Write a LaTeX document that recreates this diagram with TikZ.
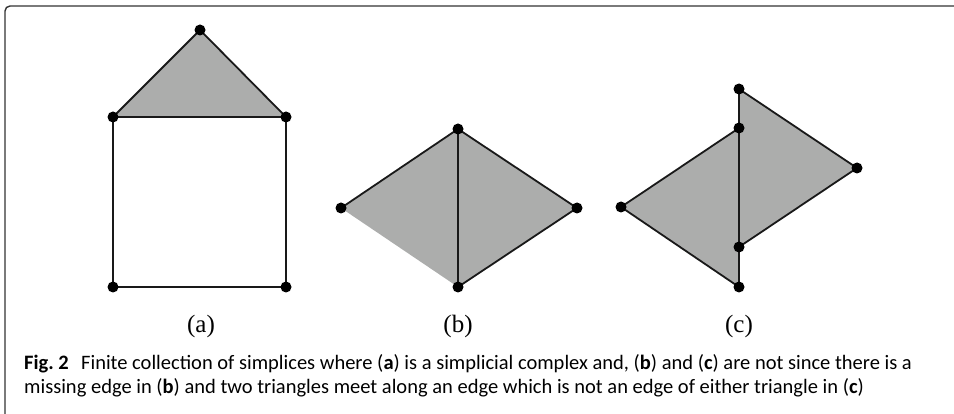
\documentclass[tikz,border=0pt]{standalone}
\usepackage{fontspec}
\setmainfont{Liberation Serif}
\newfontfamily\capfont{Carlito}
\usepackage{tikz}
\definecolor{simplexgray}{RGB}{172,173,172}
\tikzset{
  vertex/.style={circle, fill=black, inner sep=0pt, minimum size=11pt},
  edge/.style={draw=black!90, line width=1.8pt},
  face/.style={fill=simplexgray},
  frame/.style={draw=black!80, line width=1.4pt, rounded corners=5pt},
  sublabel/.style={font=\fontsize{25}{28}\selectfont, anchor=base},
  caption/.style={font=\capfont\fontsize{20.5}{24}\selectfont, align=left, inner sep=0pt, anchor=north west}
}

\begin{document}
\begin{tikzpicture}[x=1pt, y=-1pt]
  \useasboundingbox (0,0) rectangle (954,414);
  \draw[frame] (954,6) -- (5,6) -- (5,414);

  % (a) simplicial complex
  \coordinate (a1) at (200,30);
  \coordinate (a2) at (113,117);
  \coordinate (a3) at (286,117);
  \coordinate (a4) at (113,287);
  \coordinate (a5) at (286,287);
  % (b) missing edge
  \coordinate (b1) at (458,129);
  \coordinate (b2) at (341,208);
  \coordinate (b3) at (577,208);
  \coordinate (b4) at (458,287);
  % (c) triangles meeting badly
  \coordinate (c1) at (739,89);
  \coordinate (c2) at (739,128);
  \coordinate (c3) at (857,168);
  \coordinate (c4) at (621,207);
  \coordinate (c5) at (739,247);
  \coordinate (c6) at (739,287);

  \fill[face] (a1) -- (a2) -- (a3) -- cycle;
  \fill[face] (b1) -- (b2) -- (b4) -- (b3) -- cycle;
  \fill[face] (c2) -- (c4) -- (c6) -- cycle;
  \fill[face] (c1) -- (c3) -- (c5) -- cycle;

  \draw[edge] (a1) -- (a2) -- (a3) -- cycle;
  \draw[edge] (a2) -- (a4) -- (a5) -- (a3);
  \draw[edge] (b2) -- (b1) -- (b3) -- (b4) -- (b1);
  \draw[edge] (c1) -- (c6);
  \draw[edge] (c2) -- (c4) -- (c6);
  \draw[edge] (c1) -- (c3) -- (c5);

  \foreach \v in {a1,a2,a3,a4,a5,b1,b2,b3,b4,c1,c2,c3,c4,c5,c6}
    \node[vertex] (\v dot) at (\v) {};

  \node[sublabel] (la) at (201,333) {(a)};
  \node[sublabel] (lb) at (458,333) {(b)};
  \node[sublabel] (lc) at (739,333) {(c)};

  \node[caption] (cap) at (24,354) {{\bfseries Fig.~2}\hspace{0.6em}Finite collection of simplices where (\textbf{a}) is a simplicial complex and, (\textbf{b}) and (\textbf{c}) are not since there is a\\
    missing edge in (\textbf{b}) and two triangles meet along an edge which is not an edge of either triangle in (\textbf{c})};
\end{tikzpicture}
\end{document}
